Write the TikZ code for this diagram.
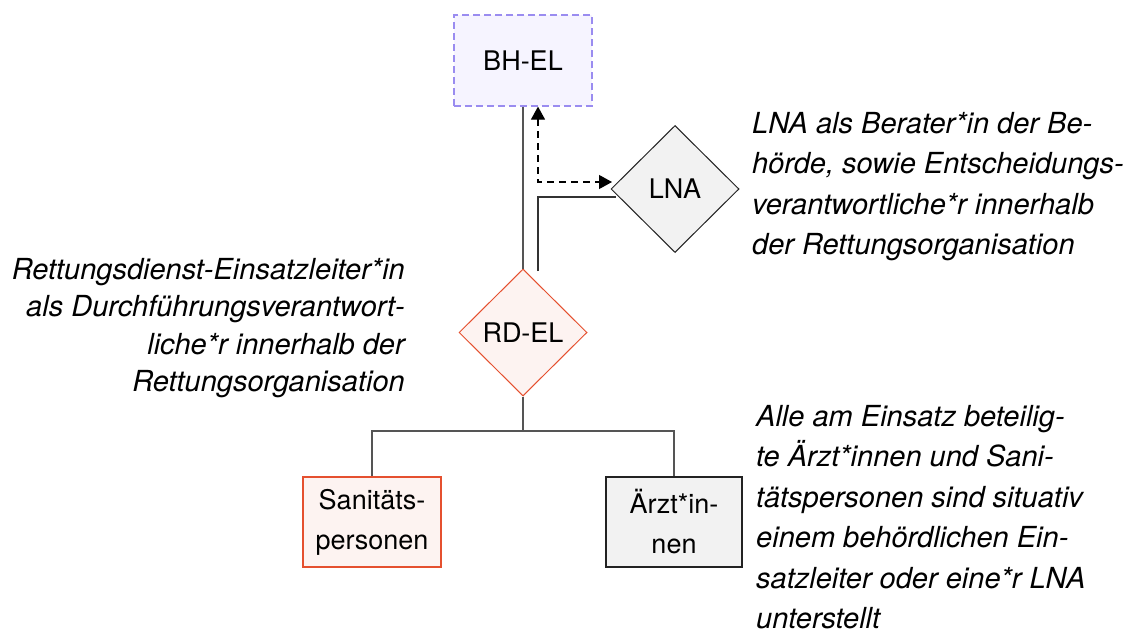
\documentclass[tikz,border=0pt]{standalone}
\usepackage{fontspec}
\setmainfont{TeX Gyre Heros}
\usetikzlibrary{shapes.geometric,arrows.meta,calc}
\definecolor{bhfill}{HTML}{F6F4FF}
\definecolor{bhdraw}{HTML}{9A8CF0}
\definecolor{rdfill}{HTML}{FDF3F1}
\definecolor{rddraw}{HTML}{E5502F}
\definecolor{gfill}{HTML}{F2F2F2}
\definecolor{gdraw}{HTML}{222222}
\definecolor{lnc}{HTML}{555555}
\begin{document}
\begin{tikzpicture}[x=1pt,y=-1pt,
  lbl/.style={font=\fontsize{27}{40}\selectfont, align=center, text=black},
  noteL/.style={font=\fontsize{29}{37.5}\selectfont\itshape, inner sep=0, align=right},
  noteR/.style={font=\fontsize{29}{40.5}\selectfont\itshape, inner sep=0, align=left},
  conn/.style={draw=lnc, line width=1.4pt},
  dia/.style={diamond, aspect=1, minimum width=128pt, minimum height=127pt, inner sep=0, line width=1pt},
  boxnode/.style={rectangle, minimum width=138pt, minimum height=90pt, inner sep=0, line width=1.2pt},
  arrtip/.style={Triangle[length=13pt,width=14pt]}
]
\useasboundingbox (0,0) rectangle (1134,637);
\fill[white] (0,0) rectangle (1134,637);

\node[boxnode, lbl, fill=bhfill, draw=bhdraw, dash pattern=on 7pt off 4pt, minimum height=91pt] (bh) at (523,60.5) {BH-EL};
\node[dia, lbl, fill=gfill, draw=gdraw] (lna) at (675,189) {LNA};
\node[dia, lbl, fill=rdfill, draw=rddraw] (rd) at (523,332.5) {RD-EL};
\node[boxnode, lbl, fill=rdfill, draw=rddraw] (san) at (372,522) {Sanitäts-\\personen};
\node[boxnode, lbl, fill=gfill, draw=gdraw, minimum width=136pt] (arzt) at (674,522) {Ärzt*in-\\nen};

% connectors
\draw[conn] (bh.south) -- (rd.north);
\coordinate (dcorner) at (538,182);
\coordinate (dtop) at (bh.south -| dcorner);
\coordinate (dend) at (612,182);
\draw[conn, draw=black, line width=1.2pt, dash pattern=on 7pt off 5pt, {Triangle[length=13pt,width=14pt]}-{Triangle[length=13pt,width=14pt]}] (dtop) -- (dcorner) -- (dend);
\coordinate (sstart) at (538,271);
\coordinate (send) at (616,197);
\draw[conn, draw=black!80, line width=1.2pt] (sstart) |- (send);
\coordinate (fork) at (523,431);
\draw[conn] (rd.south) -- (fork);
\draw[conn] (fork) -| (san.north);
\draw[conn] (fork) -| (arzt.north);

% notes
\node[noteL, anchor=north east] (nl) at (405,258) {Rettungsdienst-Einsatzleiter*in\\als Durchführungsverantwort-\\liche*r innerhalb der\\Rettungsorganisation};
\node[noteR, anchor=north west] (nr1) at (752,112) {LNA als Berater*in der Be-\\hörde, sowie Entscheidungs-\\verantwortliche*r innerhalb\\der Rettungsorganisation};
\node[noteR, anchor=north west] (nr2) at (756,405) {Alle am Einsatz beteilig-\\te Ärzt*innen und Sani-\\tätspersonen sind situativ\\einem behördlichen Ein-\\satzleiter oder eine*r LNA\\unterstellt};
\end{tikzpicture}
\end{document}
